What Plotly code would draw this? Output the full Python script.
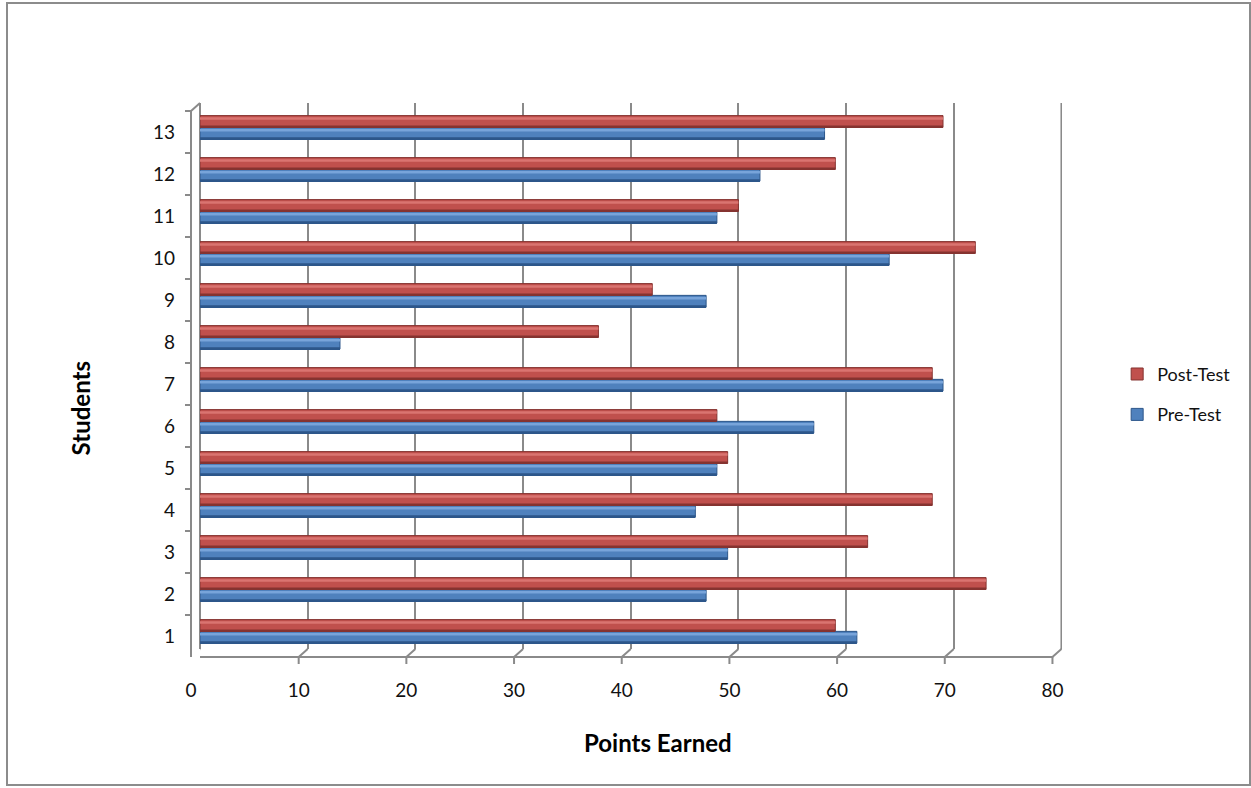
import plotly.graph_objects as go

students = [str(i) for i in range(1, 14)]
pre_test = [61, 47, 49, 46, 48, 57, 69, 13, 47, 64, 48, 52, 58]
post_test = [59, 73, 62, 68, 49, 48, 68, 37, 42, 72, 50, 59, 69]
x_ticks = [0, 10, 20, 30, 40, 50, 60, 70, 80]

RED = "#C0504D"
RED_HI = "#DA7471"
RED_DK = "#853330"
BLUE = "#4F81BD"
BLUE_HI = "#78A4DA"
BLUE_DK = "#2C568A"
GRID = "#8A8A8A"
FONT = "Lato"

W = 0.28
fig = go.Figure()

# main bars
fig.add_trace(go.Bar(
    y=students, x=post_test, orientation="h", name="Post-Test",
    marker=dict(color=RED, line=dict(color=RED_DK, width=1)),
    offset=-0.08, width=W, legendgroup="post", hoverinfo="x+y"))
fig.add_trace(go.Bar(
    y=students, x=pre_test, orientation="h", name="Pre-Test",
    marker=dict(color=BLUE, line=dict(color=BLUE_DK, width=1)),
    offset=-0.36, width=W, legendgroup="pre", hoverinfo="x+y"))
# highlight strips (3D sheen)
fig.add_trace(go.Bar(
    y=students, x=post_test, orientation="h", showlegend=False,
    marker=dict(color=RED_HI, line=dict(width=0)),
    offset=0.10, width=0.06, hoverinfo="skip"))
fig.add_trace(go.Bar(
    y=students, x=pre_test, orientation="h", showlegend=False,
    marker=dict(color=BLUE_HI, line=dict(width=0)),
    offset=-0.18, width=0.06, hoverinfo="skip"))
# shadow strips
fig.add_trace(go.Bar(
    y=students, x=post_test, orientation="h", showlegend=False,
    marker=dict(color=RED_DK, line=dict(width=0)),
    offset=-0.08, width=0.045, hoverinfo="skip"))
fig.add_trace(go.Bar(
    y=students, x=pre_test, orientation="h", showlegend=False,
    marker=dict(color=BLUE_DK, line=dict(width=0)),
    offset=-0.36, width=0.045, hoverinfo="skip"))

shapes = []
line = dict(color=GRID, width=2)
DX, DY = -9, -8
# chart border
shapes.append(dict(type="rect", xref="paper", yref="paper",
                   xsizemode="pixel", ysizemode="pixel", xanchor=0, yanchor=0,
                   x0=-193, x1=1050, y0=-136, y1=646,
                   line=dict(color="#8C8C8C", width=2), layer="below"))
# back wall right edge (last gridline)
shapes.append(dict(type="line", xref="x", yref="paper",
                   x0=x_ticks[-1], x1=x_ticks[-1], y0=0, y1=1, line=line, layer="below"))
# front y axis line
shapes.append(dict(type="line", xref="paper", yref="paper",
                   xsizemode="pixel", ysizemode="pixel", xanchor=0, yanchor=0,
                   x0=DX, x1=DX, y0=DY, y1=546 + DY, line=line))
# top-left connector
shapes.append(dict(type="line", xref="paper", yref="paper",
                   xsizemode="pixel", ysizemode="pixel", xanchor=0, yanchor=1,
                   x0=0, x1=DX, y0=0, y1=DY, line=line))
# front x axis line
shapes.append(dict(type="line", xref="x", yref="paper",
                   xsizemode="pixel", ysizemode="pixel", xanchor=0, yanchor=0,
                   x0=DX, x1=DX + 862, y0=DY, y1=DY, line=line))
for v in x_ticks:
    shapes.append(dict(type="line", xref="x", yref="paper",
                       xsizemode="pixel", ysizemode="pixel", xanchor=v, yanchor=0,
                       x0=0, x1=DX, y0=0, y1=DY, line=line))
    shapes.append(dict(type="line", xref="x", yref="paper",
                       xsizemode="pixel", ysizemode="pixel", xanchor=v, yanchor=0,
                       x0=DX, x1=DX, y0=DY, y1=DY - 7, line=line))
# y ticks on front axis at category boundaries
for k in range(len(students) + 1):
    shapes.append(dict(type="line", xref="paper", yref="y",
                       xsizemode="pixel", ysizemode="pixel", xanchor=0, yanchor=k - 0.5,
                       x0=DX, x1=DX - 6, y0=DY, y1=DY, line=line))

fig.update_layout(
    width=1251, height=788,
    margin=dict(l=200, r=189, t=103, b=139, pad=0),
    paper_bgcolor="white", plot_bgcolor="white",
    barmode="overlay",
    font=dict(family=FONT, size=19, color="#111"),
    shapes=shapes,
    legend=dict(x=1.064, y=0.537, xanchor="left", yanchor="top",
                traceorder="grouped", tracegroupgap=14,
                font=dict(family=FONT, size=18, color="#111"),
                itemwidth=30, bgcolor="rgba(0,0,0,0)"),
    annotations=[
        dict(text="<b>Points Earned</b>", xref="paper", yref="paper",
             x=0.531, y=0, yshift=-93, showarrow=False,
             font=dict(family=FONT, size=24, color="#000"),
             xanchor="center", yanchor="middle"),
        dict(text="<b>Students</b>", xref="paper", yref="paper",
             x=-0.139, y=0.441, showarrow=False, textangle=-90,
             font=dict(family=FONT, size=24, color="#000"),
             xanchor="center", yanchor="middle"),
    ],
)
fig.update_xaxes(range=[0, 80.05], tickvals=x_ticks, ticktext=[str(v) for v in x_ticks],
                 showgrid=True, gridcolor=GRID, gridwidth=2,
                 zeroline=True, zerolinecolor=GRID, zerolinewidth=2,
                 showline=False, ticks="", ticklabelshift=-9, ticklabelstandoff=28,
                 tickfont=dict(family=FONT, size=19, color="#111"))
fig.update_yaxes(type="category", categoryorder="array", categoryarray=students,
                 range=[-0.5, 12.5], showgrid=False, zeroline=False,
                 showline=False, ticks="", ticklabelshift=8, ticklabelstandoff=24,
                 tickfont=dict(family=FONT, size=19, color="#111"))

fig.write_html("out.html")
